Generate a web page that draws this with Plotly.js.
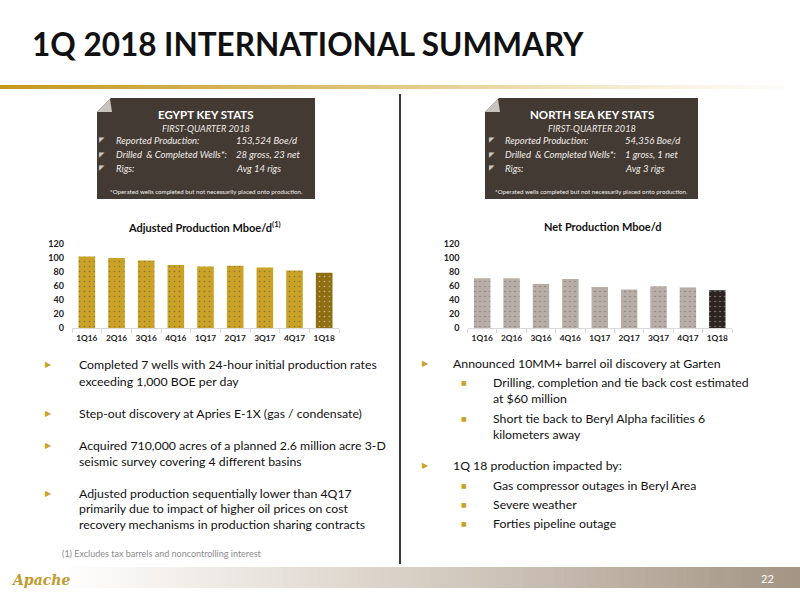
<!DOCTYPE html>
<html>
<head>
<meta charset="utf-8">
<script src="https://cdn.plot.ly/plotly-3.0.1.min.js"></script>
<style>html,body{margin:0;padding:0;background:#fff;}#chart{width:800px;height:600px;}</style>
</head>
<body>
<div id="chart"></div>
<script>
// ---- data ----
const categories = ['1Q16','2Q16','3Q16','4Q16','1Q17','2Q17','3Q17','4Q17','1Q18'];
const egyptAdjusted = [102, 100, 96.5, 90, 88, 89, 86.5, 82, 79];
const northSeaNet = [71, 71, 63, 70, 58.5, 55, 59.5, 58, 54];
const yTicks = [0, 20, 40, 60, 80, 100, 120];

const egyptStats = [
  ['Reported Production:', '153,524 Boe/d'],
  ['Drilled  & Completed Wells*:', '28 gross, 23 net'],
  ['Rigs:', 'Avg 14 rigs']
];
const northSeaStats = [
  ['Reported Production:', '54,356 Boe/d'],
  ['Drilled  & Completed Wells*:', '1 gross, 1 net'],
  ['Rigs:', 'Avg 3 rigs']
];
const egyptBullets = [
  ['Completed 7 wells with 24-hour initial production rates', 'exceeding 1,000 BOE per day'],
  ['Step-out discovery at Apries E-1X (gas / condensate)'],
  ['Acquired 710,000 acres of a planned 2.6 million acre 3-D', 'seismic survey covering 4 different basins'],
  ['Adjusted production sequentially lower than 4Q17', 'primarily due to impact of higher oil prices on cost', 'recovery mechanisms in production sharing contracts']
];
const northSeaMain1 = 'Announced 10MM+ barrel oil discovery at Garten';
const northSeaSub1 = [
  ['Drilling, completion and tie back cost estimated', 'at $60 million'],
  ['Short tie back to Beryl Alpha facilities 6', 'kilometers away']
];
const northSeaMain2 = '1Q 18 production impacted by:';
const northSeaSub2 = ['Gas compressor outages in Beryl Area', 'Severe weather', 'Forties pipeline outage'];

// ---- helpers ----
const W = 800, H = 600;
const X = px => px / W;
const Y = py => 1 - py / H;
const FONT = 'Lato, "Open Sans", sans-serif';
const GOLD = '#C9A227', GOLD_DARK = '#8F6E12', TAUPE = '#B8AEA7', DARK = '#2B2422';
const BODY = 12.3;

const annotations = [];
function T(x, y, text, o) {
  o = o || {};
  annotations.push({
    xref: 'paper', yref: 'paper', x: X(x), y: Y(y), text: text, showarrow: false,
    xanchor: o.anchor || 'left', yanchor: 'middle', borderpad: 0,
    font: { family: o.family || FONT, size: o.size || BODY, color: o.color || '#111',
            weight: o.weight || 'normal', style: o.style || 'normal' }
  });
}
const shapes = [];
function path(pts, fill, layer) {
  shapes.push({ type: 'path', xref: 'paper', yref: 'paper', layer: layer || 'below',
    path: 'M' + pts.map(p => X(p[0]).toFixed(5) + ',' + Y(p[1]).toFixed(5)).join(' L') + ' Z',
    fillcolor: fill, line: { width: 0 } });
}
function lerp(a, b, t) { return a + (b - a) * t; }
function gradient(x0, x1, y0, y1, stops, n) {
  for (let i = 0; i < n; i++) {
    const t = (i + 0.5) / n;
    let k = 0;
    while (k < stops.length - 2 && t > stops[k + 1][0]) k++;
    const s0 = stops[k], s1 = stops[k + 1];
    const u = Math.min(1, Math.max(0, (t - s0[0]) / (s1[0] - s0[0])));
    const c = [0, 1, 2].map(j => Math.round(lerp(s0[1][j], s1[1][j], u)));
    const xa = lerp(x0, x1, i / n), xb = lerp(x0, x1, (i + 1) / n) + 0.6;
    shapes.push({ type: 'rect', xref: 'paper', yref: 'paper', layer: 'below',
      x0: X(xa), x1: X(xb), y0: Y(y1), y1: Y(y0),
      fillcolor: 'rgb(' + c.join(',') + ')', line: { width: 0 } });
  }
}

// ---- header ----
T(31, 44, '1Q 2018 INTERNATIONAL SUMMARY', { size: 31.5, weight: 'bold', color: '#111' });
gradient(0, 800, 85, 89, [[0, [196, 152, 30]], [0.45, [222, 196, 120]], [0.8, [246, 238, 215]], [1, [255, 255, 255]]], 80);

// ---- key stats boxes ----
function statBox(x0, x1, y0, y1, title, rows, labelX, valueX, bulletX) {
  const c = 14;
  path([[x0, y0 + c], [x0 + c, y0], [x1, y0], [x1, y1], [x0, y1]], '#433A34');
  path([[x0, y0 + c], [x0 + c - 1, y0 + 1], [x0 + c + 1, y0 + c]], '#C9C3BD');
  const cx = (x0 + x1) / 2;
  T(cx, 115, title, { anchor: 'center', size: 11.5, weight: 'bold', color: '#FFFFFF' });
  T(cx, 128, 'FIRST-QUARTER 2018', { anchor: 'center', size: 9.2, style: 'italic', color: '#EDE8E3' });
  const ry = [140, 154.5, 168.5];
  rows.forEach((r, i) => {
    T(bulletX, ry[i], '◤', { anchor: 'center', size: 7, color: '#CFC8C1', family: 'DejaVu Sans' });
    T(labelX, ry[i], r[0], { size: 9.5, style: 'italic', color: '#F2EEEA' });
    T(valueX, ry[i], r[1], { size: 9.5, style: 'italic', color: '#F2EEEA' });
  });
  T(cx, 191.5, '*Operated wells completed but not necessarily placed onto production.', { anchor: 'center', size: 6.2, color: '#F2EEEA' });
}
statBox(97, 315, 98, 199, 'EGYPT KEY STATS', egyptStats, 115, 235, 102);
statBox(485, 698, 98, 199, 'NORTH SEA KEY STATS', northSeaStats, 504, 624, 492);

// ---- chart titles ----
T(205, 226, 'Adjusted Production Mboe/d<sup>(1)</sup>', { anchor: 'center', size: 11, weight: 'bold', color: '#111' });
T(603, 226, 'Net Production Mboe/d', { anchor: 'center', size: 11, weight: 'bold', color: '#111' });

// ---- left bullets ----
const leftY = [[365, 381], [413], [445, 461], [493, 508.5, 524]];
egyptBullets.forEach((b, i) => {
  T(48, leftY[i][0], '▶', { anchor: 'center', size: 8, color: GOLD, family: 'DejaVu Sans' });
  b.forEach((line, j) => T(78, leftY[i][j], line));
});
T(61, 553, '(1) Excludes tax barrels and noncontrolling interest', { size: 9, color: '#8C8C8C' });

// ---- right bullets ----
T(425, 363, '▶', { anchor: 'center', size: 8, color: GOLD, family: 'DejaVu Sans' });
T(452, 363, northSeaMain1);
const sub1Y = [[382, 398], [418, 434]];
northSeaSub1.forEach((b, i) => {
  T(464, sub1Y[i][0], '■', { anchor: 'center', size: 6, color: GOLD, family: 'DejaVu Sans' });
  b.forEach((line, j) => T(492, sub1Y[i][j], line));
});
T(425, 466, '▶', { anchor: 'center', size: 8, color: GOLD, family: 'DejaVu Sans' });
T(452, 466, northSeaMain2);
const sub2Y = [485, 504, 523];
northSeaSub2.forEach((line, i) => {
  T(464, sub2Y[i], '■', { anchor: 'center', size: 6, color: GOLD, family: 'DejaVu Sans' });
  T(492, sub2Y[i], line);
});

// ---- divider ----
shapes.push({ type: 'line', xref: 'paper', yref: 'paper', x0: X(400), x1: X(400), y0: Y(94), y1: Y(564),
  line: { color: '#3A3A3A', width: 2 } });

// ---- footer ----
gradient(62, 800, 567, 588, [[0, [255, 255, 255]], [0.5, [214, 205, 194]], [1, [163, 148, 132]]], 90);
T(767, 578, '22', { anchor: 'center', size: 11, color: '#FFFFFF' });
T(10, 580, 'Apache', { size: 14, weight: 'bold', style: 'italic', color: '#C19A2B', family: '"DejaVu Serif", serif' });

// ---- bar charts ----
const lastIdx = categories.length - 1;
const pattern = { shape: '.', fgcolor: 'rgba(255,255,255,0.55)', size: 5, solidity: 0.08, fillmode: 'overlay' };
const traces = [
  { type: 'bar', x: categories, y: egyptAdjusted, xaxis: 'x', yaxis: 'y',
    marker: { color: categories.map((c, i) => i === lastIdx ? GOLD_DARK : GOLD), pattern: pattern, line: { width: 0 } },
    hoverinfo: 'x+y' },
  { type: 'bar', x: categories, y: northSeaNet, xaxis: 'x2', yaxis: 'y2',
    marker: { color: categories.map((c, i) => i === lastIdx ? DARK : TAUPE), pattern: pattern, line: { width: 0 } },
    hoverinfo: 'x+y' }
];

const yDomain = [Y(328), Y(244)];
const xCommon = {
  type: 'category', showline: true, linecolor: '#D9D9D9', linewidth: 1, ticks: 'outside', tickson: 'boundaries',
  ticklen: 4, tickcolor: '#D9D9D9', showgrid: false, zeroline: false, fixedrange: true, tickangle: 0,
  ticklabelstandoff: 2,
  tickfont: { family: FONT, size: 8.3, color: '#222', weight: 'bold' }
};
const yCommon = {
  range: [0, 120], tickvals: yTicks, ticktext: yTicks.map(String), showgrid: false, zeroline: false, showline: false,
  ticks: '', ticklabelstandoff: 7, fixedrange: true, domain: yDomain,
  tickfont: { family: FONT, size: 9, color: '#222', weight: 'bold' }
};

const layout = {
  width: W, height: H, margin: { l: 0, r: 0, t: 0, b: 0 }, paper_bgcolor: '#FFFFFF', plot_bgcolor: 'rgba(0,0,0,0)',
  showlegend: false, bargap: 0.44,
  xaxis: Object.assign({}, xCommon, { domain: [X(72), X(339)], anchor: 'y' }),
  yaxis: Object.assign({}, yCommon, { anchor: 'x' }),
  xaxis2: Object.assign({}, xCommon, { domain: [X(467.5), X(732)], anchor: 'y2' }),
  yaxis2: Object.assign({}, yCommon, { anchor: 'x2' }),
  shapes: shapes, annotations: annotations
};

Plotly.newPlot('chart', traces, layout, { displayModeBar: false, staticPlot: true });
</script>
</body>
</html>
